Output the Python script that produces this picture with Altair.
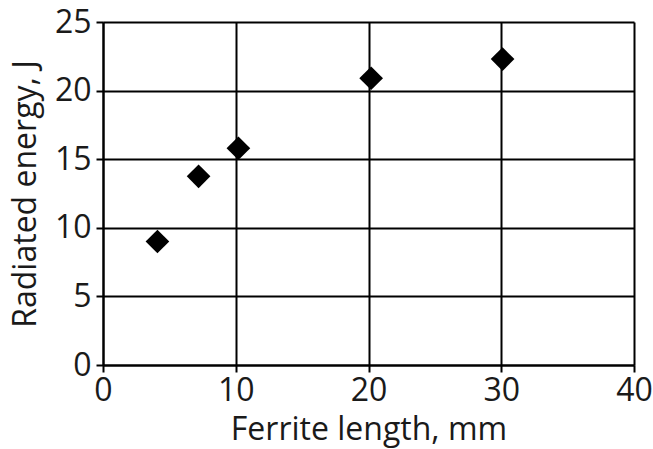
import altair as alt
import pandas as pd

ferrite_length = [4.1, 7.2, 10.2, 20.2, 30.1]
radiated_energy = [9.0, 13.75, 15.8, 20.9, 22.3]

df = pd.DataFrame({"x": ferrite_length, "y": radiated_energy})

FONT = "Open Sans"

chart = alt.Chart(df).mark_point(
    shape="diamond", filled=True, color="black", size=560, opacity=1
).encode(
    x=alt.X("x:Q", scale=alt.Scale(domain=[0, 40], nice=False),
            axis=alt.Axis(values=[0, 10, 20, 30, 40], title="Ferrite length, mm",
                          titlePadding=8, labelPadding=3)),
    y=alt.Y("y:Q", scale=alt.Scale(domain=[0, 25], nice=False),
            axis=alt.Axis(values=[0, 5, 10, 15, 20, 25], title="Radiated energy, J",
                          titlePadding=12, labelPadding=5)),
).properties(
    width=531, height=343,
    autosize=alt.AutoSizeParams(type="none"),
    padding={"left": 103, "top": 22, "right": 19, "bottom": 84},
).configure_view(
    stroke=None
).configure_axis(
    grid=True, gridColor="black", gridWidth=2, gridOpacity=1,
    domainColor="black", domainWidth=2,
    tickColor="black", tickWidth=2, tickSize=7,
    labelFont=FONT, labelFontSize=32, labelColor="#1a1a1a",
    titleFont=FONT, titleFontSize=32, titleFontWeight="normal", titleColor="#1a1a1a",
).configure_axisX(labelFlush=False).configure_axisY(labelFlush=False)

chart.save("out.html", embed_options={"renderer": "svg", "actions": False})
